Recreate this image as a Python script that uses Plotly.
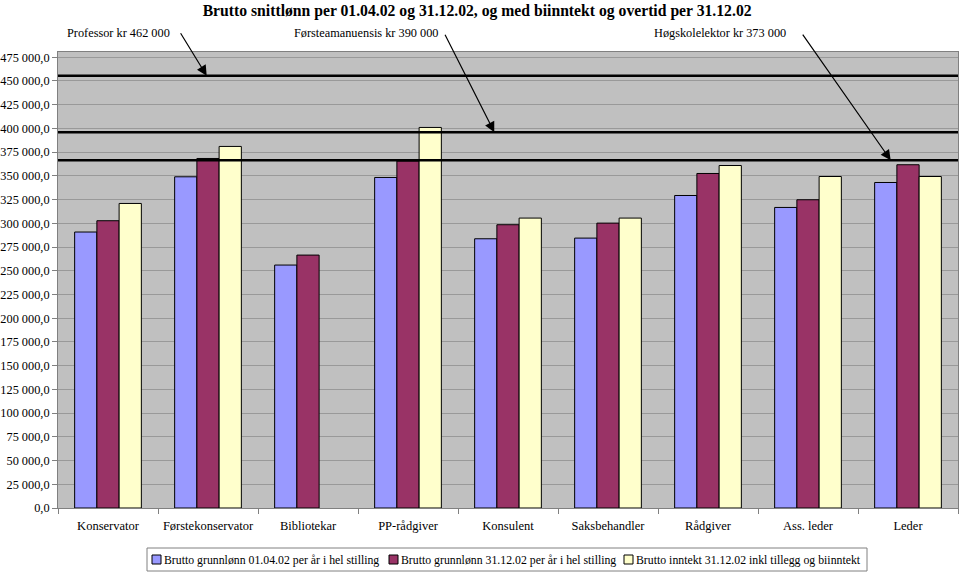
import plotly.graph_objects as go

categories = ["Konservator", "Førstekonservator", "Bibliotekar", "PP-rådgiver", "Konsulent",
              "Saksbehandler", "Rådgiver", "Ass. leder", "Leder"]
grunnlonn_0104 = [290800, 349000, 256000, 348300, 283700, 284400, 329300, 316700, 343000]
grunnlonn_3112 = [302700, 368300, 266500, 365600, 298500, 300200, 352500, 324800, 361700]
inntekt_3112 = [320900, 381000, None, 401000, 305500, 305500, 360900, 349300, 349300]
series_names = ["Brutto grunnlønn 01.04.02 per år i hel stilling",
                "Brutto grunnlønn 31.12.02 per år i hel stilling",
                "Brutto inntekt 31.12.02 inkl tillegg og biinntekt"]
series_colors = ["#9999FF", "#993366", "#FFFFCC"]

# reference salary lines as drawn in the chart
ref_levels = [455500, 396000, 366500]
ref_labels = ["Professor kr 462 000", "Førsteamanuensis kr 390 000", "Høgskolelektor kr 373 000"]
ref_arrow_x = [0.987, 3.863, 7.827]     # category-index position of arrow tips

# layout constants (pixels)
W, H = 960, 574
L, R, T, B = 58, 2, 52, 66
PW, PH = W - L - R, H - T - B


def px_x(p):
    return (p - L) / PW


def px_y(p):
    return (H - B - p) / PH


fig = go.Figure()
for name, vals, col in zip(series_names, [grunnlonn_0104, grunnlonn_3112, inntekt_3112], series_colors):
    fig.add_trace(go.Bar(x=categories, y=vals, name=name, showlegend=False,
                         marker=dict(color=col, line=dict(color="black", width=1))))

for lvl in ref_levels:
    fig.add_shape(type="line", xref="paper", x0=0, x1=1, yref="y", y0=lvl, y1=lvl,
                  line=dict(color="black", width=2.5))

label_px_x = [118, 366, 720]
for lab, lx in zip(ref_labels, label_px_x):
    fig.add_annotation(x=px_x(lx), y=px_y(33), text=lab, showarrow=False, xref="paper", yref="paper",
                       xanchor="center", yanchor="middle",
                       font=dict(family="Liberation Serif", size=12.3, color="black"))

arrow_ax = [-27, -50, -89]
arrow_ay = [-44, -99, -127]
for tipx, lvl, ax, ay in zip(ref_arrow_x, ref_levels, arrow_ax, arrow_ay):
    fig.add_annotation(x=tipx, y=lvl, xref="x", yref="y", text="", showarrow=True,
                       ax=ax, ay=ay, arrowhead=2, arrowsize=1.7, arrowwidth=1.2,
                       arrowcolor="black", standoff=0)

# custom legend (box, swatches, texts)
fig.add_shape(type="rect", xref="paper", yref="paper", x0=px_x(147), x1=px_x(867),
              y0=px_y(571), y1=px_y(548), line=dict(color="#808080", width=1), fillcolor="white",
              layer="above")
swatch_px = [152, 389, 624]
for sx, col, name in zip(swatch_px, series_colors, series_names):
    fig.add_shape(type="rect", xref="paper", yref="paper", x0=px_x(sx), x1=px_x(sx + 9),
                  y0=px_y(564), y1=px_y(555), line=dict(color="black", width=1), fillcolor=col,
                  layer="above")
    fig.add_annotation(x=px_x(sx + 10), y=px_y(559.5), xref="paper", yref="paper", text=name,
                       showarrow=False, xanchor="left", yanchor="middle",
                       font=dict(family="Liberation Serif", size=11.8, color="black"))

fig.update_layout(
    width=W, height=H,
    margin=dict(l=L, r=R, t=T, b=B),
    paper_bgcolor="white", plot_bgcolor="#C0C0C0",
    separators=", ",
    barmode="group", bargap=0.333, bargroupgap=0,
    font=dict(family="Liberation Serif", size=13, color="black"),
    title=dict(text="<b>Brutto snittlønn per 01.04.02 og 31.12.02, og med biinntekt og overtid per 31.12.02</b>",
               x=0.497, xanchor="center", y=0.992, yanchor="top",
               font=dict(family="Liberation Serif", size=15.7, color="black")),
    showlegend=False,
)
fig.update_yaxes(range=[0, 480500], tickvals=list(range(0, 475001, 25000)), tickformat=",.1f",
                 showgrid=True, gridcolor="#999999", gridwidth=1, zeroline=False,
                 ticks="outside", ticklen=5, tickcolor="#808080", automargin=False,
                 showline=True, linecolor="#808080", mirror=True,
                 tickfont=dict(family="Liberation Serif", size=12.3))
fig.update_xaxes(type="category", tickson="boundaries", ticks="outside", ticklen=5, tickcolor="#808080",
                 showline=True, linecolor="#808080", mirror=True, showgrid=False, tickangle=0,
                 automargin=False, ticklabelstandoff=6,
                 tickfont=dict(family="Liberation Serif", size=12.5))

fig.write_html("out.html")
